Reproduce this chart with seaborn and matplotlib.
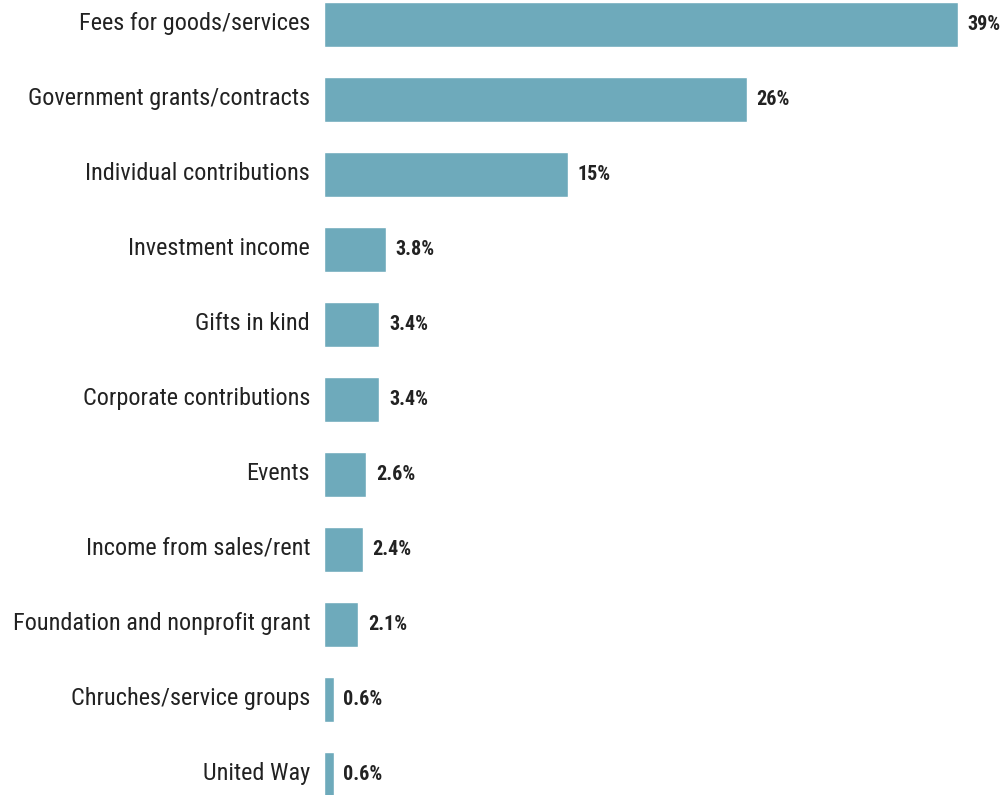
import matplotlib
matplotlib.use("Agg")
import matplotlib.pyplot as plt
import matplotlib.transforms as mtransforms
import seaborn as sns
import pandas as pd

categories = [
    "Fees for goods/services",
    "Government grants/contracts",
    "Individual contributions",
    "Investment income",
    "Gifts in kind",
    "Corporate contributions",
    "Events",
    "Income from sales/rent",
    "Foundation and nonprofit grant",
    "Chruches/service groups",
    "United Way",
]
shares = [39, 26, 15, 3.8, 3.4, 3.4, 2.6, 2.4, 2.1, 0.6, 0.6]

BAR_COLOR = "#6EAABB"
TEXT_COLOR = "#222222"

sns.set_theme(style="white")
plt.rcParams["font.family"] = ["Roboto Condensed", "DejaVu Sans"]

df = pd.DataFrame({"source": categories, "share": shares})

fig = plt.figure(figsize=(10.04, 7.95), dpi=100)
ax = fig.add_axes([324 / 1004, 0, 1 - 324 / 1004, 1])

sns.barplot(data=df, x="share", y="source", orient="h", color=BAR_COLOR,
            width=0.6, saturation=1, ax=ax)

ax.set_xlim(0, 41.82)
ax.set_ylim(10.273, -0.327)

# value labels, sitting a touch below the bar centre
drop = mtransforms.ScaledTranslation(0, -0.025, fig.dpi_scale_trans)
for container in ax.containers:
    texts = ax.bar_label(container, labels=[f"{v:g}%" for v in shares], padding=7,
                         fontsize=14.5, fontweight="bold", color=TEXT_COLOR)
    for t in texts:
        t.set_transform(t.get_transform() + drop)

ax.set_xlabel("")
ax.set_ylabel("")
ax.set_xticks([])
ax.tick_params(axis="y", length=0, pad=10, labelsize=17.5, labelcolor=TEXT_COLOR)

# nudge the category names slightly upward
lift = mtransforms.ScaledTranslation(0, 0.04, fig.dpi_scale_trans)
for lab in ax.get_yticklabels():
    lab.set_transform(lab.get_transform() + lift)

for spine in ax.spines.values():
    spine.set_visible(False)

fig.savefig("out.png", dpi=100)
